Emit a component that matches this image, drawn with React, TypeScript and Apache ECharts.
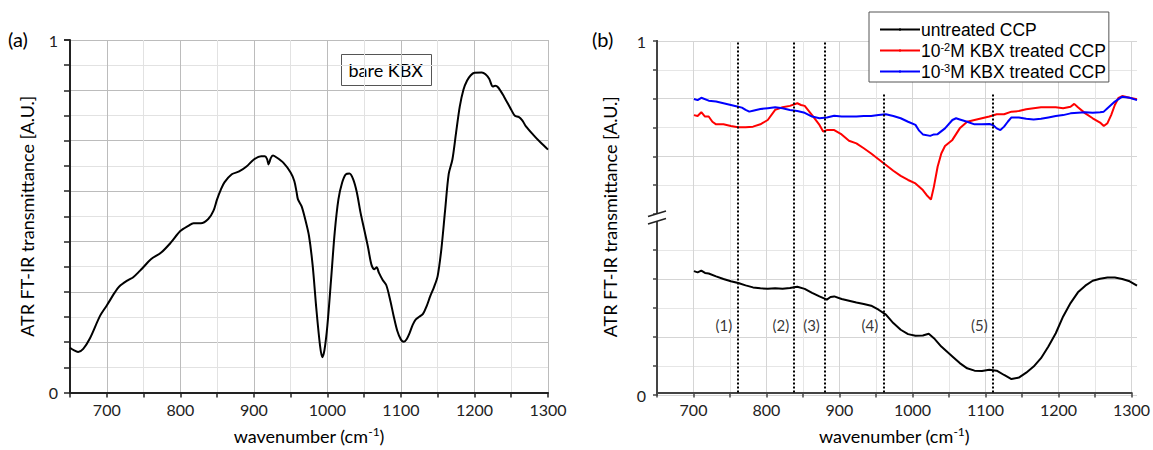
import React, { useEffect, useRef } from "react";
import * as echarts from "echarts";

// ---------- Panel (a): bare KBX ----------
const bareX = [650, 655, 661, 668, 677, 691, 700, 711, 717, 729, 736, 745, 750, 760, 774, 787, 800, 811, 818, 828, 838, 845, 850, 855, 860, 870, 880, 890, 900, 910, 915, 918, 920, 923, 926, 930, 940, 950, 955, 958, 960, 965, 970, 975, 980, 985, 990, 993, 996, 1000, 1005, 1010, 1015, 1020, 1025, 1030, 1035, 1040, 1045, 1050, 1055, 1060, 1064, 1067, 1070, 1075, 1080, 1085, 1090, 1095, 1100, 1104, 1108, 1112, 1116, 1120, 1125, 1130, 1135, 1140, 1145, 1150, 1155, 1160, 1165, 1170, 1175, 1180, 1185, 1190, 1195, 1200, 1210, 1215, 1220, 1225, 1228, 1232, 1240, 1250, 1255, 1260, 1265, 1270, 1280, 1290, 1300];
const bareY = [0.127, 0.120, 0.115, 0.124, 0.153, 0.218, 0.247, 0.284, 0.301, 0.319, 0.327, 0.345, 0.356, 0.378, 0.397, 0.425, 0.458, 0.473, 0.480, 0.480, 0.492, 0.515, 0.548, 0.575, 0.596, 0.619, 0.627, 0.641, 0.661, 0.670, 0.670, 0.662, 0.647, 0.665, 0.672, 0.668, 0.652, 0.624, 0.600, 0.570, 0.548, 0.528, 0.490, 0.444, 0.360, 0.237, 0.133, 0.100, 0.120, 0.190, 0.320, 0.455, 0.548, 0.595, 0.619, 0.621, 0.605, 0.568, 0.511, 0.463, 0.415, 0.362, 0.350, 0.355, 0.340, 0.320, 0.305, 0.266, 0.218, 0.175, 0.150, 0.144, 0.152, 0.170, 0.192, 0.207, 0.215, 0.223, 0.245, 0.274, 0.299, 0.331, 0.407, 0.515, 0.620, 0.661, 0.737, 0.811, 0.859, 0.885, 0.900, 0.907, 0.908, 0.903, 0.890, 0.868, 0.870, 0.866, 0.840, 0.802, 0.785, 0.782, 0.772, 0.755, 0.731, 0.709, 0.689];

// ---------- Panel (b) ----------
// lower segment (tick units, 0..6)
const untreatedX = [700, 705, 710, 715, 720, 730, 740, 750, 760, 770, 780, 790, 800, 810, 820, 830, 840, 850, 860, 870, 880, 885, 890, 900, 910, 920, 930, 940, 950, 960, 970, 980, 990, 1000, 1010, 1018, 1025, 1035, 1050, 1060, 1070, 1080, 1090, 1100, 1110, 1120, 1130, 1140, 1150, 1160, 1170, 1180, 1190, 1200, 1210, 1220, 1230, 1240, 1250, 1260, 1270, 1280, 1290, 1300];
const untreatedY = [4.27, 4.23, 4.29, 4.21, 4.19, 4.09, 4.00, 3.92, 3.86, 3.78, 3.71, 3.68, 3.66, 3.68, 3.66, 3.69, 3.73, 3.66, 3.52, 3.40, 3.29, 3.38, 3.40, 3.31, 3.25, 3.19, 3.14, 3.08, 2.94, 2.77, 2.48, 2.25, 2.10, 2.04, 2.05, 2.11, 1.96, 1.67, 1.33, 1.10, 0.92, 0.84, 0.83, 0.87, 0.84, 0.69, 0.55, 0.60, 0.77, 0.98, 1.27, 1.67, 2.13, 2.71, 3.17, 3.54, 3.77, 3.94, 4.01, 4.05, 4.05, 4.00, 3.92, 3.77];
// upper segment (tick units, 0..6)
const kbx2X = [700, 705, 710, 715, 720, 725, 730, 740, 750, 760, 770, 780, 790, 800, 810, 820, 830, 840, 845, 850, 860, 870, 875, 880, 890, 900, 910, 920, 930, 940, 950, 960, 970, 980, 990, 1000, 1010, 1015, 1021, 1025, 1030, 1035, 1040, 1050, 1060, 1070, 1080, 1090, 1100, 1110, 1120, 1130, 1140, 1150, 1160, 1170, 1180, 1190, 1200, 1210, 1215, 1220, 1230, 1240, 1250, 1255, 1260, 1265, 1270, 1275, 1280, 1290, 1300];
const kbx2Y = [3.43, 3.40, 3.53, 3.38, 3.38, 3.20, 3.11, 3.11, 3.05, 3.01, 3.01, 3.03, 3.11, 3.26, 3.61, 3.70, 3.75, 3.84, 3.78, 3.75, 3.43, 3.09, 2.86, 2.91, 2.91, 2.76, 2.54, 2.45, 2.28, 2.10, 1.90, 1.70, 1.50, 1.32, 1.18, 1.06, 0.83, 0.66, 0.50, 0.95, 1.64, 2.10, 2.36, 2.57, 2.97, 3.20, 3.26, 3.32, 3.38, 3.46, 3.46, 3.55, 3.57, 3.63, 3.67, 3.70, 3.70, 3.70, 3.67, 3.72, 3.82, 3.70, 3.49, 3.32, 3.17, 3.05, 3.15, 3.43, 3.78, 4.03, 4.09, 4.03, 3.98];
const kbx3X = [700, 705, 710, 720, 730, 740, 750, 760, 765, 770, 775, 780, 790, 800, 810, 820, 830, 840, 850, 860, 870, 880, 890, 900, 910, 920, 930, 940, 950, 960, 970, 980, 990, 1000, 1005, 1010, 1020, 1025, 1030, 1040, 1050, 1055, 1060, 1070, 1080, 1090, 1100, 1105, 1110, 1115, 1120, 1125, 1130, 1140, 1150, 1160, 1170, 1180, 1190, 1200, 1210, 1220, 1230, 1240, 1250, 1255, 1260, 1270, 1280, 1290, 1300];
const kbx3Y = [3.99, 3.95, 4.03, 3.93, 3.90, 3.84, 3.78, 3.72, 3.69, 3.61, 3.55, 3.58, 3.64, 3.67, 3.70, 3.67, 3.61, 3.57, 3.51, 3.38, 3.32, 3.35, 3.41, 3.38, 3.38, 3.38, 3.40, 3.40, 3.43, 3.46, 3.40, 3.32, 3.20, 3.09, 2.89, 2.76, 2.71, 2.76, 2.77, 2.97, 3.26, 3.32, 3.28, 3.20, 3.11, 3.11, 3.12, 3.09, 2.97, 2.91, 3.03, 3.20, 3.35, 3.35, 3.30, 3.28, 3.30, 3.35, 3.40, 3.43, 3.49, 3.51, 3.53, 3.51, 3.53, 3.55, 3.67, 3.90, 4.07, 4.03, 3.95];

// dotted guide lines (wavenumber, top end on the 0..1 full-height scale)
const guideX = [760, 838, 880, 960, 1110];
const guideTop = [1, 1, 1, 0.853, 0.853];
const guideLabels = ["(1)", "(2)", "(3)", "(4)", "(5)"];
const xTickLabels = ["700", "800", "900", "1000", "1100", "1200", "1300"];

const seriesNames = ["untreated CCP", "10-2M KBX treated CCP", "10-3M KBX treated CCP"];
const legendRich: Record<string, string> = {
  "untreated CCP": "untreated CCP{sup| }",
  "10-2M KBX treated CCP": "10{sup|-2}M KBX treated CCP",
  "10-3M KBX treated CCP": "10{sup|-3}M KBX treated CCP",
};

const zip = (xs: number[], ys: number[]) => xs.map((x, i) => [x, ys[i]]);

const FONT = "Lato";
const LABEL_LEVEL = 0.192;
const TICK_FS = 16;
const NAME_FS = 18;

function xAxisCfg(gridIndex: number, light: boolean, show = true) {
  return {
    type: "value",
    gridIndex,
    min: 650,
    max: 1300,
    interval: 50,
    show,
    name: "wavenumber (cm{sup|-1})",
    nameLocation: "middle",
    nameGap: 33,
    nameTextStyle: { fontFamily: FONT, fontSize: NAME_FS, color: "#000", rich: { sup: { fontSize: 12, padding: [0, 0, 9, 0], fontFamily: FONT, color: "#000" } } },
    axisLine: { show: true, onZero: false, lineStyle: { color: light ? "#444" : "#222", width: 2 } },
    axisTick: { show: true, inside: false, length: 5, lineStyle: { color: light ? "#444" : "#222", width: 1.5 } },
    axisLabel: {
      show: true,
      margin: 9,
      fontFamily: FONT,
      fontSize: TICK_FS,
      color: "#222",
      formatter: (v: number) => (xTickLabels.includes(String(Math.round(v))) ? String(Math.round(v)) : ""),
    },
    splitLine: {
      show: true,
      lineStyle: { color: light ? ["#e6e6e6", "#d5d5d5"] : ["#e2e2e2", "#bcbcbc"], width: 1 },
    },
  };
}

export default function App() {
  const ref = useRef<HTMLDivElement>(null);
  useEffect(() => {
    if (!ref.current) return;
    const chart = echarts.init(ref.current, undefined, { renderer: "svg" });
    const option: any = {
      animation: false,
      backgroundColor: "#fff",
      grid: [
        { left: 70, top: 40, width: 478, height: 354 },
        { left: 657, top: 41, width: 480, height: 354 },
        { left: 657, top: 41, width: 480, height: 173 },
        { left: 657, top: 221, width: 480, height: 174 },
      ],
      xAxis: [
        xAxisCfg(0, false),
        xAxisCfg(1, true),
        { ...xAxisCfg(2, true, false), name: "" },
        { ...xAxisCfg(3, true, false), name: "" },
      ],
      yAxis: [
        {
          type: "value",
          gridIndex: 0,
          min: 0,
          max: 1,
          interval: 1 / 7,
          name: "ATR FT-IR transmittance [A.U.]",
          nameLocation: "middle",
          nameGap: 34,
          nameTextStyle: { fontFamily: FONT, fontSize: NAME_FS, color: "#000" },
          axisLine: { show: true, lineStyle: { color: "#222", width: 2 } },
          axisTick: { show: true, length: 6, lineStyle: { color: "#222", width: 1.5 } },
          minorTick: { show: true, splitNumber: 2, length: 6, lineStyle: { color: "#222", width: 1.5 } },
          axisLabel: {
            margin: 12,
            fontFamily: FONT,
            fontSize: TICK_FS,
            color: "#222",
            formatter: (v: number) => (v < 0.001 ? "0" : v > 0.999 ? "1" : ""),
          },
          splitLine: { show: true, lineStyle: { color: "#bcbcbc", width: 1 } },
          minorSplitLine: { show: true, lineStyle: { color: "#e2e2e2", width: 1 } },
        },
        {
          type: "value",
          gridIndex: 1,
          min: 0,
          max: 1,
          name: "ATR FT-IR transmittance [A.U.]",
          nameLocation: "middle",
          nameGap: 38,
          nameTextStyle: { fontFamily: FONT, fontSize: NAME_FS, color: "#000" },
          axisLine: { show: true, lineStyle: { color: "#444", width: 2 } },
          axisTick: { show: false },
          axisLabel: { show: false },
          splitLine: { show: false },
        },
        {
          type: "value",
          gridIndex: 2,
          min: 0,
          max: 6,
          interval: 1,
          axisLine: { show: true, lineStyle: { color: "#444", width: 2 } },
          axisTick: { show: true, length: 4, lineStyle: { color: "#444", width: 1.5 } },
          axisLabel: {
            margin: 11,
            fontFamily: FONT,
            fontSize: TICK_FS,
            color: "#222",
            formatter: (v: number) => (v > 5.99 ? "1" : ""),
          },
          splitLine: {
            show: true,
            lineStyle: { color: ["rgba(0,0,0,0)", "#e6e6e6", "#d5d5d5", "#e6e6e6", "#d5d5d5", "#e6e6e6", "#d5d5d5"], width: 1 },
          },
        },
        {
          type: "value",
          gridIndex: 3,
          min: 0,
          max: 6,
          interval: 1,
          axisLine: { show: true, lineStyle: { color: "#444", width: 2 } },
          axisTick: { show: true, length: 4, lineStyle: { color: "#444", width: 1.5 } },
          axisLabel: {
            margin: 11,
            fontFamily: FONT,
            fontSize: TICK_FS,
            color: "#222",
            formatter: (v: number) => (v < 0.01 ? "0" : ""),
          },
          splitLine: {
            show: true,
            lineStyle: { color: ["#d5d5d5", "#e6e6e6", "#d5d5d5", "#e6e6e6", "#d5d5d5", "#e6e6e6", "rgba(0,0,0,0)"], width: 1 },
          },
        },
      ],
      legend: {
        data: seriesNames,
        orient: "vertical",
        left: 869,
        top: 12,
        z: 20,
        padding: [7, 3, 0, 10],
        itemGap: 0,
        itemWidth: 40,
        itemHeight: 3,
        borderColor: "#555",
        borderWidth: 1,
        backgroundColor: "#fff",
        formatter: (name: string) => legendRich[name] || name,
        textStyle: {
          fontFamily: "Liberation Sans",
          fontSize: 17.5,
          lineHeight: 21,
          color: "#000",
          padding: [0, 0, 0, -4],
          rich: { sup: { fontFamily: "Liberation Sans", fontSize: 11, lineHeight: 12, color: "#000", padding: [0, 0, 8, 0] } },
        },
      },
      graphic: [
        {
          type: "group",
          left: 341,
          top: 54,
          children: [
            { type: "rect", shape: { x: 0, y: 0, width: 90, height: 31 }, style: { fill: "#fff", stroke: "#555", lineWidth: 1 } },
            { type: "text", x: 7, y: 15.5, style: { text: "bare KBX", fontFamily: FONT, fontSize: 18, fill: "#000", verticalAlign: "middle" } },
          ],
        },
        { type: "text", left: 8, top: 29, style: { text: "(a)", fontFamily: FONT, fontSize: 20, fill: "#000" } },
        { type: "text", left: 592, top: 29, style: { text: "(b)", fontFamily: FONT, fontSize: 20, fill: "#000" } },
        { type: "polygon", z: 100, shape: { points: [[648, 216.5], [666, 211], [666, 218.5], [648, 224]] }, style: { fill: "#fff" } },
        { type: "line", z: 101, shape: { x1: 648, y1: 216.5, x2: 666, y2: 211 }, style: { stroke: "#222", lineWidth: 1.5 } },
        { type: "line", z: 101, shape: { x1: 648, y1: 224, x2: 666, y2: 218.5 }, style: { stroke: "#222", lineWidth: 1.5 } },
      ],
      series: [
        {
          name: "bare KBX",
          type: "line",
          xAxisIndex: 0,
          yAxisIndex: 0,
          data: zip(bareX, bareY),
          showSymbol: false,
          symbol: "none",
          smooth: 0.3,
          lineStyle: { color: "#000", width: 2 },
        },
        {
          name: "guides",
          type: "scatter",
          xAxisIndex: 1,
          yAxisIndex: 1,
          symbolSize: 0,
          data: guideX.map((x, i) => ({ value: [x, LABEL_LEVEL], name: guideLabels[i] })),
          label: {
            show: true,
            position: "left",
            distance: 5,
            formatter: (p: any) => p.name,
            fontFamily: FONT,
            fontSize: 15,
            color: "#000",
          },
          markLine: {
            silent: true,
            symbol: ["none", "none"],
            label: { show: false },
            lineStyle: { color: "#000", type: [2, 2], width: 2 },
            data: guideX.map((x, i) => [
              { coord: [x, 0] },
              { coord: [x, guideTop[i]] },
            ]),
          },
          z: 1,
        },
        {
          name: seriesNames[0],
          type: "line",
          xAxisIndex: 3,
          yAxisIndex: 3,
          data: zip(untreatedX, untreatedY),
          showSymbol: false,
          symbol: "none",
          lineStyle: { color: "#000", width: 2 },
          itemStyle: { color: "#000" },
          z: 3,
        },
        {
          name: seriesNames[1],
          type: "line",
          xAxisIndex: 2,
          yAxisIndex: 2,
          data: zip(kbx2X, kbx2Y),
          showSymbol: false,
          symbol: "none",
          lineStyle: { color: "#ff0000", width: 2 },
          itemStyle: { color: "#ff0000" },
          z: 3,
        },
        {
          name: seriesNames[2],
          type: "line",
          xAxisIndex: 2,
          yAxisIndex: 2,
          data: zip(kbx3X, kbx3Y),
          showSymbol: false,
          symbol: "none",
          lineStyle: { color: "#0000ff", width: 2 },
          itemStyle: { color: "#0000ff" },
          z: 4,
        },
      ],
    };
    chart.setOption(option);
    return () => chart.dispose();
  }, []);
  return <div ref={ref} style={{ width: 1153, height: 450, position: "absolute", left: 0, top: 0 }} />;
}
